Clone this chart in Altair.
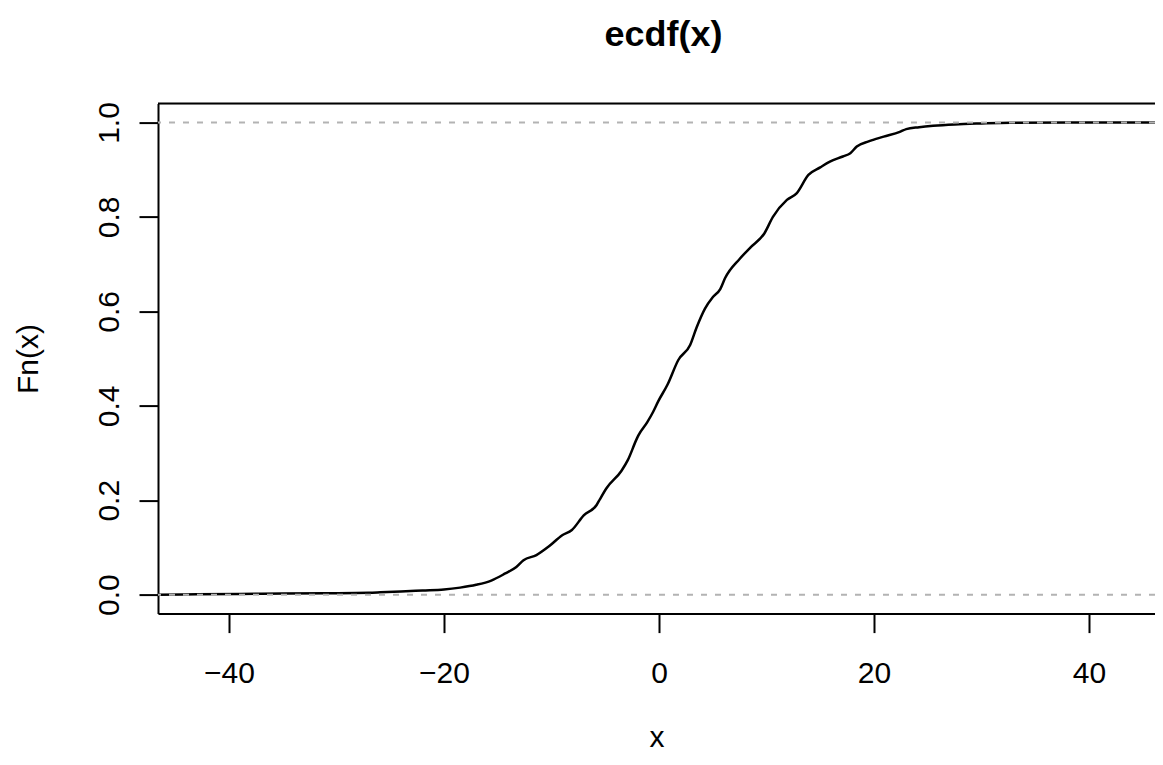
import altair as alt
import pandas as pd

# ECDF curve (x, Fn(x))
x_vals = [-46.6, -43.0, -37.0, -31.0, -27.0, -25.9, -24.0, -22.0, -20.0, -18.5,
          -17.0, -15.6, -14.3, -13.3, -12.6, -11.4, -10.2, -9.0, -8.1, -7.0,
          -5.8, -5.5, -4.9, -3.5, -2.9, -2.07, -1.9, -1.1, -0.55, -0.06,
          0.8, 1.8, 2.9, 3.5, 4.28, 5.0, 5.7, 6.14, 7.5, 8.5,
          9.8, 10.6, 11.9, 12.8, 13.9, 15.0, 15.9, 17.1, 17.8, 18.4,
          19.5, 20.9, 22.4, 23.0, 24.2, 25.5, 27.5, 30.0, 32.7, 38.2, 46.14]
fn_vals = [0.0, 0.001, 0.002, 0.003, 0.004, 0.005, 0.007, 0.009, 0.011, 0.015,
           0.021, 0.030, 0.045, 0.058, 0.073, 0.084, 0.103, 0.126, 0.137, 0.168,
           0.190, 0.202, 0.225, 0.262, 0.285, 0.330, 0.338, 0.365, 0.387, 0.410,
           0.445, 0.497, 0.529, 0.566, 0.606, 0.630, 0.647, 0.670, 0.711, 0.735,
           0.765, 0.800, 0.836, 0.850, 0.889, 0.905, 0.917, 0.928, 0.935, 0.949,
           0.960, 0.970, 0.980, 0.986, 0.990, 0.993, 0.996, 0.998, 0.9995, 1.0, 1.0]

ref_levels = [0.0, 1.0]
x_ticks = [-40, -20, 0, 20, 40]
y_ticks = [0.0, 0.2, 0.4, 0.6, 0.8, 1.0]
x_domain = [-46.6, 46.14]
y_domain = [-0.04, 1.04]

FONT = "Liberation Sans"

df = pd.DataFrame({"x": x_vals, "Fn": fn_vals})
df_ref = pd.DataFrame({"v": ref_levels})
df_top = pd.DataFrame({"a": [x_domain[0]], "b": [x_domain[1]], "y": [y_domain[1]]})

xscale = alt.Scale(domain=x_domain, nice=False, zero=False)
yscale = alt.Scale(domain=y_domain, nice=False, zero=False)

axis_common = dict(grid=False, domainColor="black", domainWidth=2,
                   tickColor="black", tickWidth=2, tickSize=19,
                   labelFont=FONT, labelFontSize=30, labelColor="black",
                   titleFont=FONT, titleFontSize=30, titleColor="black",
                   titleFontWeight="normal", labelFlush=False, labelOverlap=False)

line = alt.Chart(df).mark_line(color="black", strokeWidth=2.5, clip=True,
                               interpolate="monotone").encode(
    x=alt.X("x:Q", scale=xscale, title="x",
            axis=alt.Axis(values=x_ticks, labelBaseline="alphabetic", labelPadding=50,
                          titleY=133, titleBaseline="alphabetic", **axis_common)),
    y=alt.Y("Fn:Q", scale=yscale, title="Fn(x)",
            axis=alt.Axis(values=y_ticks, format=".1f", labelAngle=270,
                          labelAlign="center", labelBaseline="alphabetic",
                          labelPadding=21, titleAngle=270, titleBaseline="alphabetic",
                          titleX=-121, **axis_common)),
)

rules = alt.Chart(df_ref).mark_rule(color="#b3b3b3", strokeDash=[6, 8], strokeWidth=2).encode(
    y=alt.Y("v:Q", scale=yscale)
)

top = alt.Chart(df_top).mark_rule(color="black", strokeWidth=2).encode(
    x=alt.X("a:Q", scale=xscale), x2="b:Q", y=alt.Y("y:Q", scale=yscale)
)

chart = alt.layer(line, rules, top).properties(
    width=997, height=510,
    autosize=alt.AutoSizeParams(type="none"),
    padding={"left": 150, "top": 95.6, "right": 0, "bottom": 140},
    title=alt.TitleParams("ecdf(x)", font=FONT, fontSize=36, fontWeight="bold",
                          color="black", anchor="middle", frame="group",
                          baseline="alphabetic", offset=20, dx=7),
).configure_view(stroke=None).configure(background="white")

chart.save("out.html", embed_options={"renderer": "svg", "actions": False})
